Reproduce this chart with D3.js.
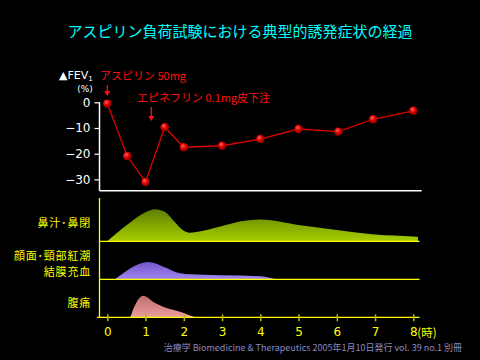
<!DOCTYPE html>
<html><head><meta charset="utf-8">
<script src="https://cdn.jsdelivr.net/npm/d3@7/dist/d3.min.js"></script>
<style>html,body{margin:0;padding:0;background:#000;}svg{display:block;}</style>
</head><body>
<script>
// ---- data ----
const fevHours = [0, 0.52, 1.0, 1.5, 2.0, 3.0, 4.0, 5.0, 6.04, 6.95, 8.0];
const fevValues = [-0.5, -20.9, -31, -9.7, -17.5, -16.9, -14.3, -10.4, -11.4, -6.6, -3.3];
const fevTicks = [0, -10, -20, -30];
const hourTicks = [0, 1, 2, 3, 4, 5, 6, 7, 8];

const nasalHours = [0, 0.5, 1.0, 1.25, 1.5, 1.75, 2.0, 2.15, 2.5, 3.0, 3.5, 4.0, 5.0, 6.0, 7.0, 8.0, 8.12];
const nasalValues = [0, 5, 9.1, 10, 9.2, 6.2, 3.3, 2.7, 3.3, 4.8, 6.3, 6.8, 5.1, 3.5, 2.1, 1.5, 1.4];
const flushHours = [0.2, 0.5, 0.8, 1.07, 1.5, 1.9, 2.5, 3.0, 4.0, 4.25, 4.4];
const flushValues = [0, 2.6, 4.6, 5.4, 3.8, 1.9, 1.4, 1.25, 0.95, 0.5, 0];
const painHours = [0.6, 0.75, 0.94, 1.2, 1.46, 1.9, 2.1, 2.3];
const painValues = [0, 4.4, 6.7, 4.8, 3.3, 1.75, 0.9, 0];

const symptomLabels = [["鼻汁･鼻閉"], ["顔面･頸部紅潮", "結膜充血"], ["腹痛"]];
const titleText = "アスピリン負荷試験における典型的誘発症状の経過";
const note1 = "アスピリン 50mg";
const note2 = "エピネフリン 0.1mg皮下注";
const note1Hour = 0, note2Hour = 1.15;
const footerText = "治療学  Biomedicine & Therapeutics 2005年1月10日発行  vol. 39 no.1 別冊";

// ---- drawing ----
const W = 480, H = 360;
const JP = "'Noto Sans CJK JP', 'Noto Sans', sans-serif";
const svg = d3.select("body").append("svg").attr("width", W).attr("height", H)
  .style("background", "#000");
const defs = svg.append("defs");

const x = d3.scaleLinear().domain([0, 8]).range([107.3, 413.3]);
const y = d3.scaleLinear().domain([-34.4, 0]).range([190.7, 102.3]);
const hScale = d3.scaleLinear().domain([0, 10]).range([0, 32]);

// title
svg.append("text").attr("x", 240).attr("y", 37).attr("text-anchor", "middle")
  .attr("fill", "#00ffff").style("font-family", JP).style("font-size", "15px")
  .text(titleText);

// top panel axes
const axL = 99.5, axB = 190.7;
svg.append("line").attr("x1", axL).attr("x2", axL).attr("y1", y(0)).attr("y2", axB)
  .attr("stroke", "#fff").attr("stroke-width", 1.5);
svg.append("line").attr("x1", axL).attr("x2", 421.7).attr("y1", axB).attr("y2", axB)
  .attr("stroke", "#fff").attr("stroke-width", 1.5);
const yAxisG = svg.append("g").attr("transform", `translate(${axL},0)`)
  .call(d3.axisLeft(y).tickValues(fevTicks).tickSize(5).tickPadding(4).tickFormat(d3.format("d")));
yAxisG.select(".domain").remove();
yAxisG.selectAll(".tick line").attr("stroke", "#fff").attr("stroke-width", 1.2);
yAxisG.selectAll(".tick text").attr("fill", "#fff").style("font-family", "'DejaVu Sans', sans-serif")
  .style("font-size", "12px");

// FEV label
const fevLbl = svg.append("text").attr("x", 59).attr("y", 79).attr("fill", "#fff")
  .style("font-family", "'DejaVu Sans', sans-serif").style("font-size", "11px");
fevLbl.append("tspan").text("▲FEV");
fevLbl.append("tspan").attr("dy", 2).style("font-size", "7px").text("1");
svg.append("text").attr("x", 85).attr("y", 92).attr("text-anchor", "middle").attr("fill", "#fff")
  .style("font-family", "'DejaVu Sans', sans-serif").style("font-size", "9px").text("(%)");

// annotations
svg.append("text").attr("x", 100).attr("y", 80).attr("fill", "#ff1010")
  .style("font-family", JP).style("font-size", "11px").text(note1);
svg.append("text").attr("x", 137).attr("y", 102).attr("fill", "#ff1010")
  .style("font-family", JP).style("font-size", "11px").text(note2);
function arrow(hx, y1, y2) {
  svg.append("line").attr("x1", x(hx)).attr("x2", x(hx)).attr("y1", y1).attr("y2", y2 - 4)
    .attr("stroke", "#ff1010").attr("stroke-width", 1.3);
  svg.append("path").attr("d", `M${x(hx) - 3},${y2 - 5}L${x(hx) + 3},${y2 - 5}L${x(hx)},${y2}Z`)
    .attr("fill", "#ff1010");
}
arrow(note1Hour, 85, 96);
arrow(note2Hour, 107, 121);

// FEV line & points
const fevData = fevHours.map((h, i) => ({ h, v: fevValues[i] }));
svg.append("path").datum(fevData)
  .attr("d", d3.line().x(d => x(d.h)).y(d => y(d.v)))
  .attr("fill", "none").attr("stroke", "#e00000").attr("stroke-width", 1.3);
const rg = defs.append("radialGradient").attr("id", "ball").attr("cx", "40%").attr("cy", "35%").attr("r", "65%");
rg.append("stop").attr("offset", "0%").attr("stop-color", "#ff6060");
rg.append("stop").attr("offset", "50%").attr("stop-color", "#e00000");
rg.append("stop").attr("offset", "100%").attr("stop-color", "#8a0000");
svg.selectAll("circle.pt").data(fevData).enter().append("circle").attr("class", "pt")
  .attr("cx", d => x(d.h)).attr("cy", d => y(d.v)).attr("r", 4.2).attr("fill", "url(#ball)");

// symptom panels
const YEL = "#ffff00";
const bases = [241.3, 279.3, 317.3];
function grad(id, c1, c2, yTop, yBot) {
  const g = defs.append("linearGradient").attr("id", id).attr("gradientUnits", "userSpaceOnUse")
    .attr("x1", 0).attr("x2", 0).attr("y1", yTop).attr("y2", yBot);
  g.append("stop").attr("offset", "0%").attr("stop-color", c1);
  g.append("stop").attr("offset", "100%").attr("stop-color", c2);
}
grad("gGreen", "#5a7800", "#a8d000", 207, 242);
grad("gPurple", "#7050c8", "#a088f0", 260, 280);
grad("gPink", "#c06a6a", "#eca0a0", 295, 318);

const series = [
  { hours: nasalHours, vals: nasalValues, fill: "url(#gGreen)" },
  { hours: flushHours, vals: flushValues, fill: "url(#gPurple)" },
  { hours: painHours, vals: painValues, fill: "url(#gPink)" }
];
series.forEach((s, i) => {
  const base = bases[i];
  const data = s.hours.map((h, j) => ({ h, v: s.vals[j] }));
  svg.append("path").datum(data)
    .attr("d", d3.area().curve(d3.curveMonotoneX).x(d => x(d.h)).y0(base).y1(d => base - hScale(d.v)))
    .attr("fill", s.fill);
});
// baselines
bases.forEach((b, i) => {
  svg.append("line").attr("x1", i === 2 ? 97 : 99).attr("x2", 419.5).attr("y1", b).attr("y2", b)
    .attr("stroke", YEL).attr("stroke-width", 1.3);
});
svg.append("line").attr("x1", 99.5).attr("x2", 99.5).attr("y1", 198).attr("y2", 318)
  .attr("stroke", YEL).attr("stroke-width", 1.3);

// symptom labels
const labelY = [[226.5], [259.5], [307]];
const labelY2 = 275.5;
symptomLabels.forEach((lines, i) => {
  lines.forEach((t, j) => {
    svg.append("text").attr("x", 91).attr("y", j === 0 ? labelY[i][0] : labelY2).attr("text-anchor", "end")
      .attr("fill", YEL).style("font-family", JP).style("font-size", "11px")
      .style("letter-spacing", "0.8px").text(t);
  });
});

// bottom axis
const xAxisG = svg.append("g").attr("transform", `translate(0,${bases[2]})`)
  .call(d3.axisBottom(x).tickValues(hourTicks).tickSize(4).tickPadding(6).tickFormat(d3.format("d")));
xAxisG.select(".domain").remove();
xAxisG.selectAll(".tick line").attr("stroke", "#b8b800").attr("stroke-width", 1.5).attr("y1", -3);
xAxisG.selectAll(".tick text").attr("fill", YEL).style("font-family", "'DejaVu Sans', sans-serif")
  .style("font-size", "12px");
svg.append("text").attr("x", x(8) + 4).attr("y", 336.5).attr("fill", YEL)
  .style("font-family", JP).style("font-size", "11.5px").text("(時)");

// footer
svg.append("text").attr("x", 462).attr("y", 351).attr("text-anchor", "end").attr("fill", "#8a8ac8")
  .style("font-family", JP).style("font-size", "9px").text(footerText);
</script>
</body></html>
